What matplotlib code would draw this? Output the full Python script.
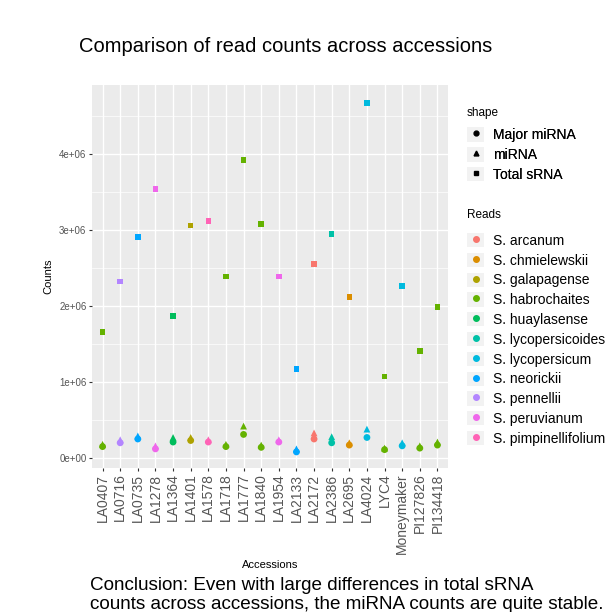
import matplotlib
matplotlib.use("Agg")
import matplotlib.pyplot as plt
from matplotlib.lines import Line2D
from matplotlib.patches import Patch
from matplotlib.legend_handler import HandlerTuple
from matplotlib.ticker import MultipleLocator, FuncFormatter

plt.rcParams['font.family'] = ['Liberation Sans', 'DejaVu Sans']

accessions = ["LA0407", "LA0716", "LA0735", "LA1278", "LA1364", "LA1401", "LA1578",
              "LA1718", "LA1777", "LA1840", "LA1954", "LA2133", "LA2172", "LA2386",
              "LA2695", "LA4024", "LYC4", "Moneymaker", "PI127826", "PI134418"]
species = ["S. habrochaites", "S. pennellii", "S. neorickii", "S. peruvianum",
           "S. huaylasense", "S. galapagense", "S. pimpinellifolium", "S. habrochaites",
           "S. habrochaites", "S. habrochaites", "S. peruvianum", "S. neorickii",
           "S. arcanum", "S. lycopersicoides", "S. chmielewskii", "S. lycopersicum",
           "S. habrochaites", "S. lycopersicum", "S. habrochaites", "S. habrochaites"]
total_srna = [1.66e6, 2.32e6, 2.91e6, 3.54e6, 1.87e6, 3.06e6, 3.12e6, 2.39e6, 3.92e6, 3.08e6,
              2.39e6, 1.17e6, 2.55e6, 2.95e6, 2.12e6, 4.67e6, 1.07e6, 2.26e6, 1.41e6, 1.99e6]
mirna = [0.18e6, 0.24e6, 0.29e6, 0.16e6, 0.27e6, 0.27e6, 0.24e6, 0.18e6, 0.42e6, 0.17e6,
         0.24e6, 0.12e6, 0.33e6, 0.28e6, 0.20e6, 0.38e6, 0.13e6, 0.20e6, 0.16e6, 0.21e6]
major_mirna = [0.15e6, 0.20e6, 0.25e6, 0.12e6, 0.21e6, 0.23e6, 0.21e6, 0.15e6, 0.31e6, 0.14e6,
               0.21e6, 0.08e6, 0.25e6, 0.20e6, 0.17e6, 0.27e6, 0.11e6, 0.16e6, 0.13e6, 0.17e6]

species_levels = ["S. arcanum", "S. chmielewskii", "S. galapagense", "S. habrochaites",
                  "S. huaylasense", "S. lycopersicoides", "S. lycopersicum", "S. neorickii",
                  "S. pennellii", "S. peruvianum", "S. pimpinellifolium"]
hue = ["#F8766D", "#DB8E00", "#AEA200", "#64B200", "#00BD5C", "#00C1A7",
       "#00BADE", "#00A6FF", "#B385FF", "#EF67EB", "#FF63B6"]
color_of = dict(zip(species_levels, hue))

shape_labels = ["Major miRNA", "miRNA", "Total sRNA"]
shape_markers = ["o", "^", "s"]

fig = plt.figure(figsize=(6.08, 6.12), dpi=100)
ax = fig.add_axes([92 / 608, 1 - 468 / 612, 356 / 608, 383 / 612])
ax.set_facecolor("#EBEBEB")

x = list(range(len(accessions)))
cols = [color_of[s] for s in species]
ax.scatter(x, major_mirna, c=cols, marker="o", s=24, linewidths=0, zorder=3)
ax.scatter(x, mirna, c=cols, marker="^", s=24, linewidths=0, zorder=3)
ax.scatter(x, total_srna, c=cols, marker="s", s=16, linewidths=0, zorder=3)

ax.set_xlim(-0.6, len(accessions) - 0.4)
ax.set_ylim(-0.1316e6, 4.908e6)
ax.set_xticks(x)
ax.set_xticklabels(accessions, rotation=90, fontsize=10, color="#555555")
ax.yaxis.set_major_locator(MultipleLocator(1e6))
ax.yaxis.set_minor_locator(MultipleLocator(0.5e6))
ax.yaxis.set_major_formatter(FuncFormatter(lambda v, p: "%de+06" % round(v / 1e6) if v else "0e+00"))
ax.tick_params(axis="y", labelsize=7, labelcolor="#555555", length=2.5, width=0.8,
               color="#333333", pad=1.5)
ax.tick_params(axis="y", which="minor", length=0)
ax.tick_params(axis="x", length=2.5, width=0.8, color="#333333", pad=1.5)
ax.grid(which="major", color="white", linewidth=1.0, zorder=0)
ax.grid(which="minor", axis="y", color="white", linewidth=0.5, zorder=0)
ax.set_axisbelow(True)
for sp in ax.spines.values():
    sp.set_visible(False)

ax.set_xlabel("Accessions", fontsize=8, labelpad=4)
ax.set_ylabel("Counts", fontsize=8, labelpad=4)

fig.text(79 / 608, 1 - 47 / 612, "Comparison of read counts across accessions",
         fontsize=14.5, ha="left", va="center")
fig.text(90 / 608, 1 - 577 / 612,
         "Conclusion: Even with large differences in total sRNA\n"
         "counts across accessions, the miRNA counts are quite stable.",
         fontsize=13.6, ha="left", va="top", linespacing=1.17)

# legends (titles drawn separately so the gap under them can be set)
key_bg = "#F2F2F2"
leg_kw = dict(loc="upper left", frameon=False, fontsize=10,
              handler_map={tuple: HandlerTuple(ndivide=1, pad=0)},
              handlelength=1.25, handleheight=1.2, labelspacing=0.36, handletextpad=0.6,
              borderpad=0, borderaxespad=0)

fig.text(467 / 608, 1 - 113 / 612, "shape", fontsize=8.5, ha="left", va="center")
shape_handles = [(Patch(facecolor=key_bg, edgecolor="none"),
                  Line2D([], [], marker=m, color="black", linestyle="none", markersize=3.5))
                 for m in shape_markers]
leg1 = fig.legend(shape_handles, shape_labels,
                  bbox_to_anchor=(467 / 608, 1 - 127.5 / 612), **leg_kw)
fig.add_artist(leg1)

fig.text(467 / 608, 1 - 215 / 612, "Reads", fontsize=8.5, ha="left", va="center")
reads_handles = [(Patch(facecolor=key_bg, edgecolor="none"),
                  Line2D([], [], marker="o", color=c, linestyle="none", markersize=4))
                 for c in hue]
leg2 = fig.legend(reads_handles, species_levels,
                  bbox_to_anchor=(467 / 608, 1 - 233 / 612), **leg_kw)

fig.savefig("out.png", dpi=100)
